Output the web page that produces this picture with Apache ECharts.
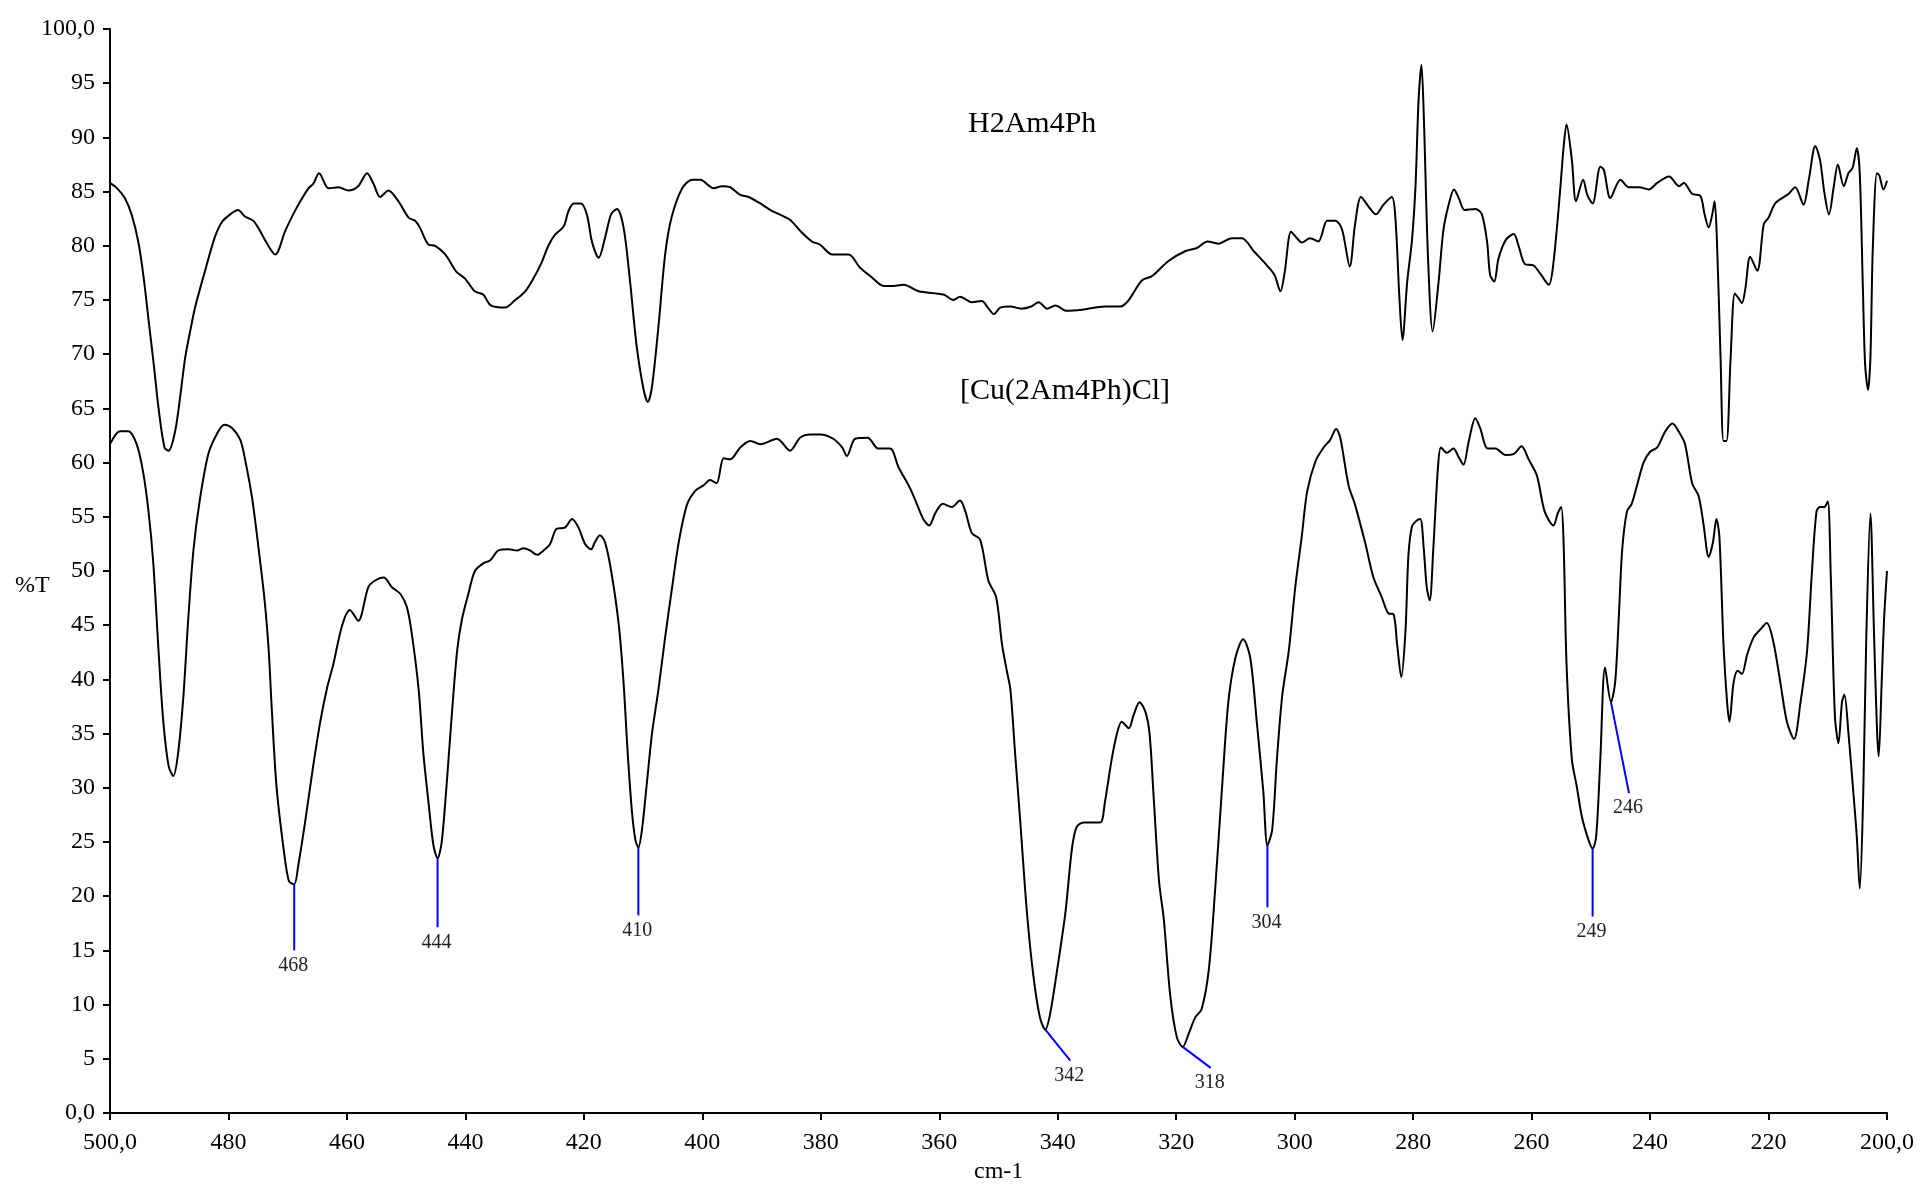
<!DOCTYPE html>
<html>
<head>
<meta charset="utf-8">
<title>Far-IR spectra: H2Am4Ph and [Cu(2Am4Ph)Cl]</title>
<script src="https://cdn.jsdelivr.net/npm/echarts@6/dist/echarts.min.js"></script>
<style>
  html, body { margin: 0; padding: 0; background: #fff; }
  #chart { width: 1921px; height: 1186px; }
</style>
</head>
<body>
<div id="chart"></div>
<script>
// Free ligand spectrum: [wavenumber cm-1, %T]
const ligandSpectrum = [
  [500,85.8],[498.8,85.3],[497.5,84.4],[496.3,82.8],[495.2,80.3],[494.3,77.0],[493.5,73.2],[492.6,69.0],
  [491.8,65.0],[490.8,61.4],[490.1,61.1],[489.0,62.9],[488.1,66.3],[487.3,69.7],[486.4,72.3],[485.6,74.4],
  [484.0,77.6],[482.3,80.8],[481.1,82.2],[479.7,82.9],[478.4,83.3],[477.2,82.7],[475.8,82.3],[474.8,81.5],
  [473.8,80.5],[472.1,79.2],[470.4,81.4],[468.5,83.5],[466.5,85.3],[465.7,85.7],[464.7,86.7],[463.1,85.3],
  [461.4,85.4],[459.8,85.1],[458.1,85.5],[456.6,86.7],[455.5,85.7],[454.4,84.5],[453.0,85.1],[451.3,84.1],
  [449.6,82.6],[448.5,82.3],[447.7,81.7],[446.2,80.1],[445.1,80.0],[443.4,79.2],[441.5,77.6],[440.1,77.0],
  [438.4,75.8],[437.0,75.5],[435.7,74.5],[433.3,74.3],[431.6,75.0],[429.9,75.8],[428.5,77.0],[427.1,78.5],
  [426.0,80.0],[424.9,81.0],[423.4,81.8],[422.6,83.2],[421.7,83.9],[420.5,83.9],[419.5,82.9],[418.6,80.3],
  [417.5,78.9],[416.4,80.8],[415.4,82.9],[414.4,83.4],[413.3,81.7],[412.2,76.7],[411.1,70.8],[409.9,66.7],
  [409.2,65.6],[408.5,67.0],[407.4,72.6],[406.3,79.1],[405.2,82.6],[403.4,85.3],[401.7,86.1],[400.3,86.1],
  [399.0,85.6],[398.1,85.3],[396.7,85.5],[395.3,85.4],[393.6,84.7],[392.2,84.5],[390.5,84.0],[388.5,83.3],
  [386.6,82.8],[385.2,82.4],[383.5,81.4],[381.5,80.4],[380.1,80.1],[378.1,79.2],[375.3,79.2],[373.4,78.0],
  [371.4,77.1],[369.4,76.3],[367.7,76.3],[366.0,76.4],[363.5,75.8],[359.3,75.5],[357.6,75.0],[356.5,75.3],
  [354.5,74.8],[352.8,74.9],[351.8,74.3],[350.8,73.7],[349.7,74.3],[348.0,74.4],[346.1,74.2],[344.5,74.4],
  [343.2,74.8],[341.8,74.2],[340.4,74.5],[338.5,74.0],[335.9,74.1],[332.0,74.4],[329.4,74.4],[328.0,75.0],
  [325.8,76.8],[324.1,77.2],[321.3,78.6],[318.5,79.5],[316.5,79.8],[314.7,80.4],[312.9,80.2],[310.6,80.7],
  [308.9,80.7],[306.9,79.5],[304.7,78.2],[303.4,77.3],[302.4,75.8],[301.7,77.5],[300.6,81.3],[299.6,80.7],
  [298.8,80.3],[297.4,80.7],[296.0,80.4],[294.5,82.3],[293.1,82.3],[292.0,81.5],[290.7,78.1],[289.8,82.0],
  [288.8,84.5],[287.5,83.6],[286.3,82.9],[285.0,83.8],[283.6,84.5],[283.0,82.6],[282.3,75.0],[281.8,71.3],
  [281.0,76.7],[280.2,80.5],[279.6,85.5],[279.1,93.2],[278.6,96.7],[278.2,92.0],[277.5,79.1],[276.7,72.1],
  [275.7,76.7],[274.9,81.4],[274.0,83.8],[273.1,85.2],[272.3,84.4],[271.3,83.3],[269.5,83.4],[268.4,82.9],
  [267.5,80.3],[267.0,77.3],[266.3,76.7],[265.6,78.8],[264.4,80.5],[263.0,81.1],[262.2,80.0],[261.1,78.3],
  [259.7,78.2],[258.5,77.4],[257.1,76.4],[256.3,78.5],[255.2,85.0],[254.6,89.1],[254.1,91.2],[253.2,87.9],
  [252.5,84.1],[251.3,86.1],[250.6,84.7],[249.7,83.9],[248.4,87.3],[247.8,87.0],[246.7,84.4],[245.0,86.1],
  [243.6,85.4],[241.9,85.4],[240.2,85.2],[238.8,85.8],[236.8,86.4],[235.1,85.5],[234.3,85.8],[232.9,84.8],
  [231.5,84.6],[230.8,82.9],[230.1,81.7],[229.5,82.9],[229.1,84.1],[228.7,80.3],[228.1,69.7],[227.6,62.0],
  [227.1,62.0],[226.4,69.7],[225.7,75.6],[225.1,75.2],[224.5,74.7],[223.9,76.1],[223.1,79.0],[221.9,77.7],
  [220.8,82.0],[220.0,82.6],[218.9,83.9],[217.7,84.4],[216.6,84.8],[215.5,85.4],[214.1,83.8],[213.2,86.1],
  [212.1,89.2],[211.3,87.9],[210.6,85.0],[209.8,82.9],[209.0,85.4],[208.3,87.5],[207.3,85.5],[206.5,86.7],
  [205.8,87.2],[205.1,89.0],[204.6,86.7],[204.1,76.7],[203.7,69.1],[203.2,66.7],[202.8,69.7],[202.4,79.7],
  [201.7,86.7],[201.3,86.5],[200.6,85.2],[200.0,86.0]
];

// Copper complex spectrum: [wavenumber cm-1, %T]
const complexSpectrum = [
  [500,61.7],[498.3,62.9],[496.9,62.9],[495.5,61.7],[494.4,59.1],[493.5,55.5],[492.7,50.8],[491.8,42.6],
  [491.0,36.1],[490.1,32.0],[489.3,31.1],[488.5,33.2],[487.6,38.5],[486.8,45.5],[485.9,52.0],[484.8,56.7],
  [483.4,60.8],[482.0,62.6],[480.7,63.5],[479.4,63.2],[478.0,62.1],[477.2,60.3],[476.0,56.7],[474.9,52.0],
  [473.9,47.3],[473.2,42.6],[472.7,37.4],[471.9,30.2],[470.7,24.4],[469.8,21.4],[468.9,21.1],[468.2,22.9],
  [467.1,26.7],[465.7,32.0],[464.5,36.1],[463.4,39.1],[462.3,41.4],[460.8,45.0],[459.5,46.4],[458.1,45.4],
  [456.4,48.5],[455.3,49.1],[453.8,49.4],[452.4,48.5],[451.0,47.9],[449.9,46.7],[449.1,44.4],[447.9,39.1],
  [447.1,33.2],[446.2,28.5],[445.4,24.7],[444.7,23.5],[444.0,25.0],[443.1,30.8],[442.3,36.7],[441.4,42.6],
  [440.6,45.5],[439.5,47.9],[438.4,50.0],[437.0,50.7],[435.8,51.0],[434.4,51.9],[432.7,52.0],[431.3,51.9],
  [430.2,52.1],[429.1,51.9],[427.9,51.5],[426.8,51.9],[425.7,52.5],[424.6,53.9],[423.2,54.0],[422.0,54.8],
  [420.9,54.0],[419.8,52.5],[418.8,52.0],[418.1,52.7],[417.3,53.3],[416.4,52.6],[415.3,49.7],[414.1,45.0],
  [413.3,39.7],[412.6,33.2],[411.9,27.9],[411.3,25.2],[410.8,24.5],[410.2,26.1],[409.5,29.7],[408.5,35.0],
  [407.4,39.1],[406.3,43.8],[405.1,48.5],[404.0,52.6],[402.6,56.1],[401.2,57.4],[399.8,57.9],[398.7,58.4],
  [397.6,58.1],[396.4,60.4],[395.3,60.3],[393.6,61.4],[391.9,62.0],[390.2,61.7],[387.4,62.2],[385.2,61.1],
  [383.5,62.3],[381.8,62.6],[380.1,62.6],[377.9,62.2],[376.4,61.4],[375.6,60.6],[374.2,62.2],[372.1,62.3],
  [370.3,61.3],[368.3,61.3],[366.9,59.6],[364.9,57.6],[363.8,56.2],[362.6,54.7],[361.7,54.2],[360.7,55.3],
  [359.4,56.2],[357.9,55.9],[356.5,56.5],[355.6,55.5],[354.5,53.5],[353.1,52.9],[351.7,49.1],[350.4,47.6],
  [349.4,43.2],[348.6,40.8],[348.0,39.1],[347.2,33.2],[346.3,26.7],[345.2,18.5],[344.1,12.6],[343.0,8.8],
  [342.1,7.7],[341.3,9.1],[340.1,13.2],[338.7,18.5],[337.6,24.4],[336.8,26.4],[335.6,26.8],[334.2,26.8],
  [332.8,26.8],[332.0,28.8],[330.9,32.6],[330.0,35.0],[329.2,36.1],[328.0,35.5],[327.2,36.7],[326.2,37.9],
  [325.2,37.0],[324.5,35.0],[323.8,29.1],[322.9,21.4],[322.1,17.9],[321.0,10.8],[319.9,7.0],[318.9,6.1],
  [317.9,7.3],[316.8,8.8],[315.7,9.6],[314.5,13.2],[313.4,20.8],[312.3,29.7],[311.2,37.9],[310.0,42.0],
  [308.7,43.7],[307.5,42.0],[306.4,36.1],[305.3,29.7],[304.6,24.7],[303.8,26.1],[303.0,32.6],[302.1,38.5],
  [301.0,42.6],[299.9,48.5],[298.8,53.2],[297.9,57.3],[296.5,60.1],[295.1,61.4],[294.0,62.1],[293.0,63.1],
  [292.3,62.3],[290.9,57.9],[289.8,56.1],[288.1,52.6],[286.7,49.4],[285.3,47.6],[284.2,46.1],[283.3,46.0],
  [282.7,43.2],[282.0,40.2],[281.3,44.4],[280.8,51.4],[280.2,54.1],[279.5,54.6],[278.8,54.8],[278.2,52.0],
  [277.7,48.5],[277.2,47.3],[276.6,52.0],[275.8,59.6],[275.3,61.4],[274.3,60.9],[273.2,61.3],[272.3,60.5],
  [271.5,59.8],[270.6,62.0],[269.5,64.1],[268.7,63.2],[267.4,61.3],[266.1,61.3],[264.4,60.7],[263.0,60.8],
  [261.7,61.5],[260.5,60.3],[259.1,58.8],[257.8,55.5],[256.3,54.2],[255.6,55.3],[255.0,55.9],[254.6,52.6],
  [254.1,41.4],[253.2,32.6],[252.4,30.2],[251.5,27.3],[250.4,25.2],[249.7,24.4],[249.1,25.5],[248.4,32.6],
  [247.6,41.1],[246.6,37.9],[245.9,39.7],[245.3,45.5],[244.7,52.0],[243.9,55.5],[243.1,56.2],[242.2,57.9],
  [241.1,60.0],[240.0,61.0],[238.8,61.4],[237.4,62.9],[236.2,63.6],[235.2,62.9],[234.1,61.7],[232.9,58.1],
  [231.8,56.9],[231.0,54.4],[230.1,51.3],[229.4,52.6],[228.8,54.8],[228.3,53.2],[227.6,43.2],[227.0,37.9],
  [226.6,36.1],[225.9,39.7],[225.2,40.8],[224.5,40.5],[223.6,42.3],[222.5,43.9],[221.4,44.6],[220.3,45.2],
  [219.2,43.5],[218.0,39.7],[216.9,36.1],[215.7,34.5],[214.6,37.9],[213.5,42.6],[212.7,49.7],[211.9,55.5],
  [211.3,55.9],[210.6,55.9],[210.0,56.4],[209.5,49.7],[208.8,36.7],[208.2,34.1],[207.6,37.9],[207.2,38.6],
  [206.5,35.0],[205.7,29.7],[205.1,25.5],[204.6,20.7],[204.0,29.7],[203.5,43.8],[202.8,55.3],[202.2,44.4],
  [201.7,35.5],[201.4,32.9],[200.9,39.7],[200.5,45.5],[200.0,50.0]
];

// Assigned bands of the complex (band position, %T at the band minimum)
const bandWavenumbers = [468.9, 444.7, 410.8, 342.1, 318.9, 304.6, 249.7, 246.6];
const bandTransmittance = [21.1, 23.5, 24.5, 7.7, 6.1, 24.7, 24.4, 37.9];

// Axis ranges and steps
const xRange = [200, 500];
const yRange = [0, 100];
const xStep = 20;
const yStep = 5;

// Leader line vectors (px) from each band minimum to its label
const leaderVectors = [[0, 66], [0, 69], [0, 68], [25, 31], [28, 21], [0, 62], [0, 68], [18, 91]];

const SERIF = '"Liberation Serif", "Times New Roman", serif';
const chart = echarts.init(document.getElementById('chart'), null, { renderer: 'canvas' });

const bandItems = bandWavenumbers.map((w, i) => [w, bandTransmittance[i], i]);

chart.setOption({
  animation: false,
  backgroundColor: '#ffffff',
  grid: { left: 110, right: 34, top: 29, bottom: 73, containLabel: false },
  xAxis: {
    type: 'value',
    min: xRange[0], max: xRange[1], interval: xStep,
    inverse: true,
    splitLine: { show: false },
    axisLine: { onZero: false, lineStyle: { color: '#000', width: 2 } },
    axisTick: { inside: false, length: 7, lineStyle: { color: '#000', width: 2 } },
    axisLabel: {
      margin: 18, color: '#000', fontFamily: SERIF, fontSize: 24,
      formatter: v => (v === xRange[0] || v === xRange[1]) ? v.toFixed(1).replace('.', ',') : String(v)
    }
  },
  yAxis: {
    type: 'value',
    min: yRange[0], max: yRange[1], interval: yStep,
    splitLine: { show: false },
    axisLine: { onZero: false, lineStyle: { color: '#000', width: 2 } },
    axisTick: { inside: false, length: 7, lineStyle: { color: '#000', width: 2 } },
    axisLabel: {
      margin: 15, color: '#000', fontFamily: SERIF, fontSize: 24,
      padding: [0, 0, 12, 0],
      formatter: v => (v === yRange[0] || v === yRange[1]) ? v.toFixed(1).replace('.', ',') : String(v)
    }
  },
  graphic: [
    { type: 'text', left: 1032 - 64, top: 124 - 15,
      style: { text: 'H2Am4Ph', font: '30px ' + SERIF, fill: '#000' } },
    { type: 'text', left: 1065 - 105, top: 391 - 15,
      style: { text: '[Cu(2Am4Ph)Cl]', font: '30px ' + SERIF, fill: '#000' } },
    { type: 'text', left: 15, top: 586 - 12,
      style: { text: '%T', font: '24px ' + SERIF, fill: '#000' } },
    { type: 'text', left: 998 - 24, top: 1172 - 12,
      style: { text: 'cm-1', font: '24px ' + SERIF, fill: '#000' } }
  ],
  series: [
    {
      name: 'H2Am4Ph', type: 'line', data: ligandSpectrum,
      showSymbol: false, smooth: 0.3,
      lineStyle: { color: '#000', width: 2 }, silent: true
    },
    {
      name: '[Cu(2Am4Ph)Cl]', type: 'line', data: complexSpectrum,
      showSymbol: false, smooth: 0.3,
      lineStyle: { color: '#000', width: 2 }, silent: true
    },
    {
      name: 'bands', type: 'custom', data: bandItems, silent: true, z: 5,
      encode: { x: 0, y: 1 },
      renderItem: (params, api) => {
        const p = api.coord([api.value(0), api.value(1)]);
        const v = leaderVectors[api.value(2)];
        const ex = p[0] + v[0], ey = p[1] + v[1];
        return {
          type: 'group',
          children: [
            { type: 'line', shape: { x1: p[0], y1: p[1], x2: ex, y2: ey },
              style: { stroke: '#0000ff', lineWidth: 2 } },
            { type: 'text', x: ex - 1, y: ey + 5,
              style: { text: String(Math.floor(api.value(0))), font: '20px ' + SERIF,
                       fill: '#222', textAlign: 'center', textVerticalAlign: 'top' } }
          ]
        };
      }
    }
  ]
});
</script>
</body>
</html>
